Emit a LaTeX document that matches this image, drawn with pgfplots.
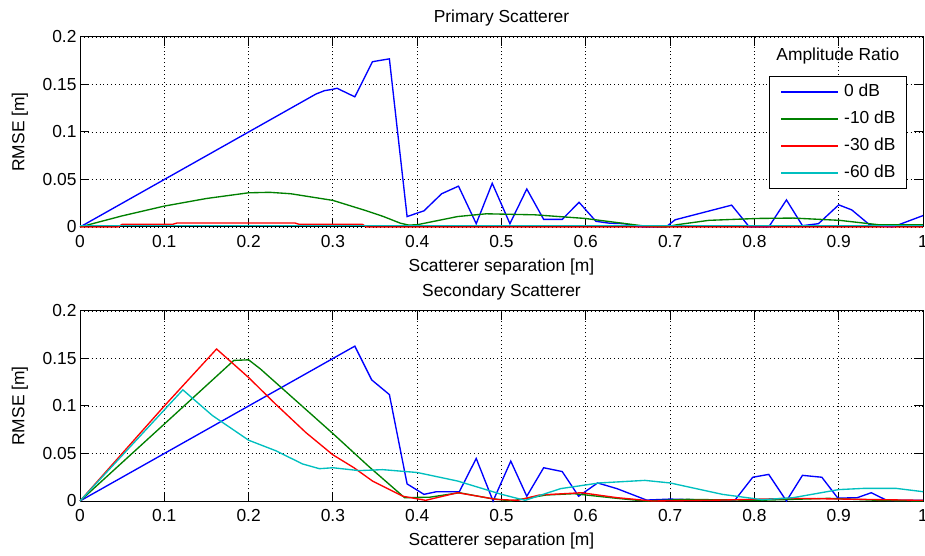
\documentclass[border=0pt]{standalone}
\usepackage{fontspec}
\setmainfont{Liberation Sans}
\usepackage{pgfplots}
\pgfplotsset{compat=1.18}
\definecolor{mblue}{rgb}{0,0,1}
\definecolor{mgreen}{rgb}{0,0.5,0}
\definecolor{mred}{rgb}{1,0,0}
\definecolor{mcyan}{rgb}{0,0.75,0.75}
\newcommand{\mf}{\fontsize{17.4}{20}\selectfont}
\pgfplotsset{
  mstyle/.style={
    scale only axis, width=843pt, height=190pt,
    xmin=0, xmax=1, ymin=0, ymax=0.2,
    xtick={0,0.1,0.2,0.3,0.4,0.5,0.6,0.7,0.8,0.9,1},
    xticklabels={0,0.1,0.2,0.3,0.4,0.5,0.6,0.7,0.8,0.9,1},
    ytick={0,0.05,0.1,0.15,0.2},
    yticklabels={0,0.05,0.1,0.15,0.2},
    tick align=inside, xtick pos=both, ytick pos=both,
    major tick length=9pt,
    grid=major,
    grid style={black, line width=0.9pt, dash pattern=on 0.9pt off 3pt},
    axis line style={black, line width=1pt},
    every tick/.style={black, line width=1pt},
    tick label style={font=\mf},
    xticklabel style={yshift=-5pt},
    label style={font=\mf},
    xlabel={Scatterer separation [m]},
    ylabel={RMSE [m]},
    xlabel style={at={(axis description cs:0.5,-0.2105)}, anchor=center},
    ylabel style={at={(axis description cs:-0.0712,0.5)}, anchor=center},
    every axis title shift=0pt,
    title style={at={(axis description cs:0.5,1.1)}, anchor=center, font=\mf},
    clip=false,
    /pgf/number format/assume math mode=true,
    every axis plot/.append style={line width=1.35pt},
  }
}
\begin{document}
\begin{tikzpicture}
\begin{axis}[mstyle, at={(80pt,329pt)}, anchor=south west, title={Primary Scatterer},
  legend style={at={(rel axis cs:0.981,0.795)}, anchor=north east, draw=black, line width=1pt, fill=white,
    font=\mf, inner xsep=11pt, inner ysep=8pt, row sep=12pt,
    nodes={inner sep=0pt, text height=12pt, text depth=3pt},
    /tikz/every odd column/.append style={column sep=5pt}},
  legend cell align=left,
  legend image code/.code={\draw[#1, line width=1.9pt] (0pt,0pt) -- (57pt,0pt);}]
\addplot[mblue] coordinates {(0,0) (0.05,0.025) (0.1,0.05) (0.15,0.075) (0.2,0.1) (0.25,0.125) (0.27,0.135) (0.28,0.140) (0.29,0.1435) (0.30,0.145) (0.305,0.146) (0.326,0.137) (0.347,0.174) (0.367,0.177) (0.388,0.011) (0.408,0.017) (0.429,0.035) (0.449,0.043) (0.470,0.0035) (0.489,0.046) (0.510,0.0035) (0.530,0.040) (0.550,0.008) (0.572,0.008) (0.592,0.026) (0.612,0.006) (0.628,0.004) (0.645,0.0035) (0.668,0) (0.695,0) (0.706,0.0076) (0.773,0.023) (0.794,0) (0.817,0) (0.838,0.0285) (0.857,0.0014) (0.876,0.0035) (0.900,0.0233) (0.9155,0.018) (0.9365,0.0024) (0.964,0) (1,0.012)};
\addlegendentry{0 dB}
\addplot[mgreen] coordinates {(0,0) (0.05,0.0117) (0.1,0.022) (0.15,0.030) (0.2,0.036) (0.225,0.0365) (0.25,0.035) (0.3,0.028) (0.34,0.017) (0.36,0.011) (0.38,0.004) (0.39,0.002) (0.4,0.0024) (0.448,0.011) (0.482,0.0139) (0.54,0.0128) (0.599,0.009) (0.666,0.0014) (0.695,0) (0.708,0.0024) (0.746,0.007) (0.804,0.009) (0.846,0.0094) (0.901,0.007) (0.947,0.0024) (1,0.0024)};
\addlegendentry{-10 dB}
\addplot[mred] coordinates {(0,0) (0.045,0) (0.05,0.0028) (0.11,0.0028) (0.115,0.0042) (0.255,0.0042) (0.26,0.0028) (0.335,0.0028) (0.34,0) (1,0)};
\addlegendentry{-30 dB}
\addplot[mcyan] coordinates {(0,0.0014) (1,0.0014)};
\addlegendentry{-60 dB}
\node[font=\mf] at (rel axis cs:0.899,0.9) {Amplitude Ratio};
\end{axis}
\begin{axis}[mstyle, at={(80pt,55pt)}, anchor=south west, title={Secondary Scatterer}]
\addplot[mblue] coordinates {(0,0) (0.1,0.05) (0.2,0.1) (0.326,0.163) (0.346,0.1275) (0.367,0.112) (0.388,0.018) (0.408,0.007) (0.423,0.0098) (0.450,0.0098) (0.470,0.0448) (0.490,0) (0.511,0.042) (0.530,0.005) (0.550,0.035) (0.572,0.031) (0.5915,0.005) (0.614,0.019) (0.637,0.013) (0.672,0.001) (0.70,0.002) (0.746,0.001) (0.777,0.001) (0.798,0.025) (0.817,0.028) (0.838,0) (0.857,0.027) (0.880,0.025) (0.899,0.003) (0.922,0.0035) (0.9386,0.0087) (0.957,0.0007) (1,0.0007)};
\addplot[mgreen] coordinates {(0,0) (0.1,0.081) (0.1825,0.148) (0.2,0.1486) (0.214,0.139) (0.3,0.071) (0.343,0.036) (0.385,0.0035) (0.415,0.004) (0.45,0.0087) (0.486,0.0028) (0.511,0) (0.553,0.0063) (0.586,0.0077) (0.637,0.0028) (0.670,0) (0.72,0.0017) (0.804,0.0007) (0.888,0.0028) (0.947,0.0007) (1,0)};
\addplot[mred] coordinates {(0,0) (0.05,0.05) (0.1,0.1) (0.162,0.160) (0.2,0.130) (0.232,0.102) (0.268,0.072) (0.3,0.0486) (0.325,0.035) (0.347,0.021) (0.383,0.005) (0.41,0.0007) (0.448,0.0087) (0.494,0.0017) (0.519,0.0007) (0.545,0.0063) (0.595,0.0087) (0.637,0.0035) (0.679,0) (0.762,0.001) (0.846,0.0028) (0.93,0.0017) (1,0.0007)};
\addplot[mcyan] coordinates {(0,0) (0.122,0.117) (0.157,0.090) (0.2,0.064) (0.232,0.053) (0.264,0.039) (0.284,0.034) (0.3,0.035) (0.331,0.032) (0.359,0.033) (0.4,0.030) (0.448,0.021) (0.5,0.007) (0.528,0.0007) (0.57,0.013) (0.616,0.019) (0.67,0.0217) (0.70,0.019) (0.762,0.007) (0.809,0.0014) (0.846,0.0035) (0.9,0.012) (0.93,0.0133) (0.968,0.0133) (1,0.0098)};
\end{axis}
\pgfresetboundingbox
\path[use as bounding box] (0pt,0pt) rectangle (925pt,556pt);
\end{tikzpicture}
\end{document}
